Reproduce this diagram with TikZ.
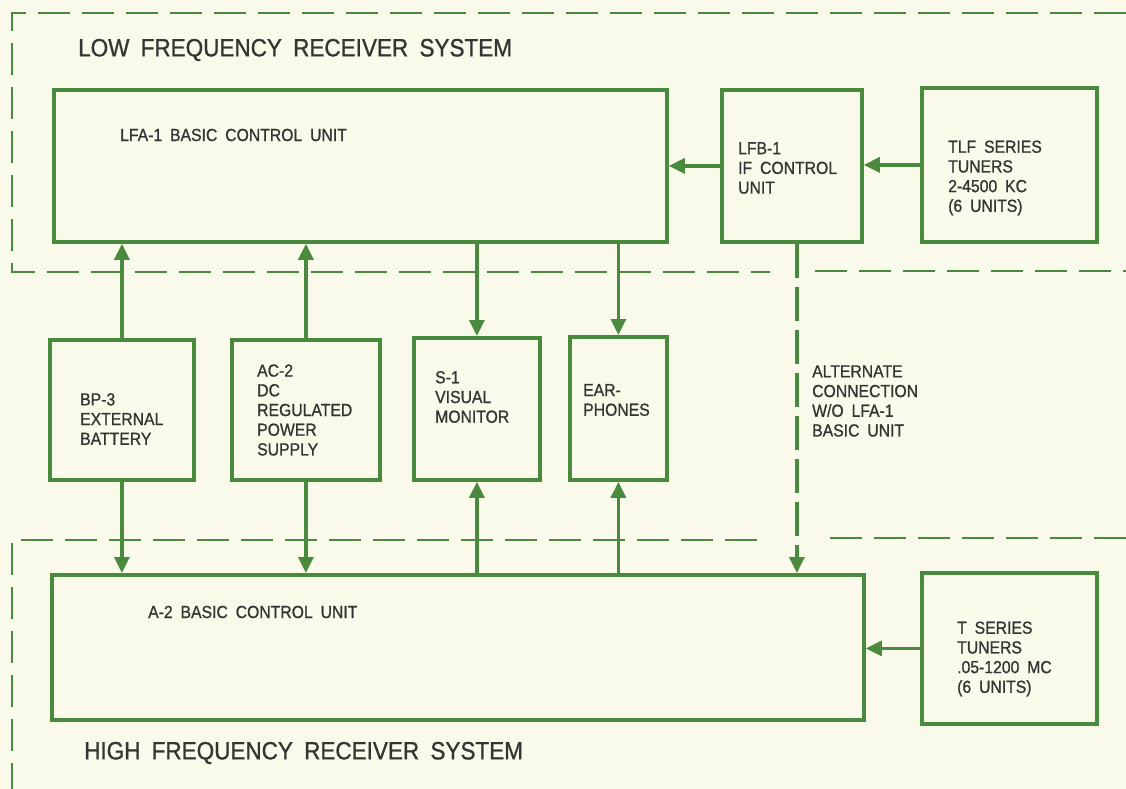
\documentclass[tikz,border=0pt]{standalone}
\usepackage{fontspec}
\setmainfont{Liberation Sans}[FakeStretch=0.9, WordSpace=1.8]
\newfontfamily\lbl{Liberation Sans}[FakeStretch=0.9, WordSpace=1.8, FakeBold=0.9]
\usetikzlibrary{arrows.meta}
\definecolor{bg}{HTML}{FAFAEA}
\definecolor{grn}{HTML}{4A8A3E}
\definecolor{ink}{HTML}{363333}
\begin{document}
\begin{tikzpicture}[x=1pt,y=-1pt,
 box/.style={draw=grn, line width=3.8pt, rectangle, anchor=north west, inner sep=0pt},
 txt/.style={text=ink, font=\lbl\fontsize{17.5}{19.7}\selectfont, align=left, anchor=west, inner sep=0pt},
 title/.style={text=ink, font=\lbl\fontsize{25}{30}\selectfont, anchor=west, inner sep=0pt},
 conn/.style={draw=grn, line width=3.2pt, -{Triangle[length=16pt,width=15pt]}},
 region/.style={draw=grn, line width=2.2pt, dash pattern=on 32pt off 12pt},
]
\useasboundingbox (0,0) rectangle (1126,789);
\fill[bg] (0,0) rectangle (1126,789);

% region boundaries
\draw[region] (1126,13) -- (12,13) -- (12,272) -- (770,272);
\draw[region] (815,271) -- (1126,271);
\draw[region] (1126,538) -- (826,538);
\draw[region] (757,540) -- (12,540) -- (12,789);

% boxes
\node[box, minimum width=613pt, minimum height=152pt] (lfa) at (52,88) {};
\node[box, minimum width=140pt, minimum height=152pt] (lfb) at (720,88) {};
\node[box, minimum width=175pt, minimum height=154pt] (tlf) at (920,86) {};
\node[box, minimum width=144pt, minimum height=140pt] (bp) at (48,338) {};
\node[box, minimum width=148pt, minimum height=140pt] (ac) at (230,338) {};
\node[box, minimum width=126pt, minimum height=142pt] (s1) at (412,336) {};
\node[box, minimum width=97pt, minimum height=143pt] (ear) at (568,335) {};
\node[box, minimum width=812pt, minimum height=145pt] (a2) at (50,573) {};
\node[box, minimum width=175pt, minimum height=151pt] (ts) at (920,571) {};

% texts
\node[title] (lftitle) at (78,50) {LOW FREQUENCY RECEIVER SYSTEM};
\node[title] (hftitle) at (84,753) {HIGH FREQUENCY RECEIVER SYSTEM};
\node[txt] (lfat) at (120,135) {LFA-1 BASIC CONTROL UNIT};
\node[txt] (lfbt) at (738,168) {LFB-1\\IF CONTROL\\UNIT};
\node[txt] (tlft) at (948,178) {TLF SERIES\\TUNERS\\2-4500 KC\\(6 UNITS)};
\node[txt] (bpt) at (80,419) {BP-3\\EXTERNAL\\BATTERY};
\node[txt] (act) at (257,410) {AC-2\\DC\\REGULATED\\POWER\\SUPPLY};
\node[txt] (s1t) at (435,397) {S-1\\VISUAL\\MONITOR};
\node[txt] (eart) at (583,400) {EAR-\\PHONES};
\node[txt] (altt) at (812,401) {ALTERNATE\\CONNECTION\\W/O LFA-1\\BASIC UNIT};
\node[txt] (a2t) at (148,612) {A-2 BASIC CONTROL UNIT};
\node[txt] (tst) at (957,659) {T SERIES\\TUNERS\\.05-1200 MC\\(6 UNITS)};

% connectors
\draw[conn] (tlf.west) -- (tlf.west -| lfb.east);
\draw[conn] (lfb.west) -- (lfb.west -| lfa.east);
\draw[conn] (ts.west) -- (ts.west -| a2.east);
\draw[conn] (bp.north) -- (bp.north |- lfa.south);
\draw[conn] (bp.south) -- (bp.south |- a2.north);
\draw[conn] (ac.north) -- (ac.north |- lfa.south);
\draw[conn] (ac.south) -- (ac.south |- a2.north);
\draw[conn] (s1.north |- lfa.south) -- (s1.north);
\draw[conn] (s1.south |- a2.north) -- (s1.south);
\draw[conn] (ear.north |- lfa.south) -- (ear.north);
\draw[conn] (ear.south |- a2.north) -- (ear.south);
\coordinate (alttop) at ([xshift=5pt]lfb.south);
\draw[conn, dash pattern=on 34pt off 9pt] (alttop) -- (alttop |- a2.north);
\end{tikzpicture}
\end{document}
